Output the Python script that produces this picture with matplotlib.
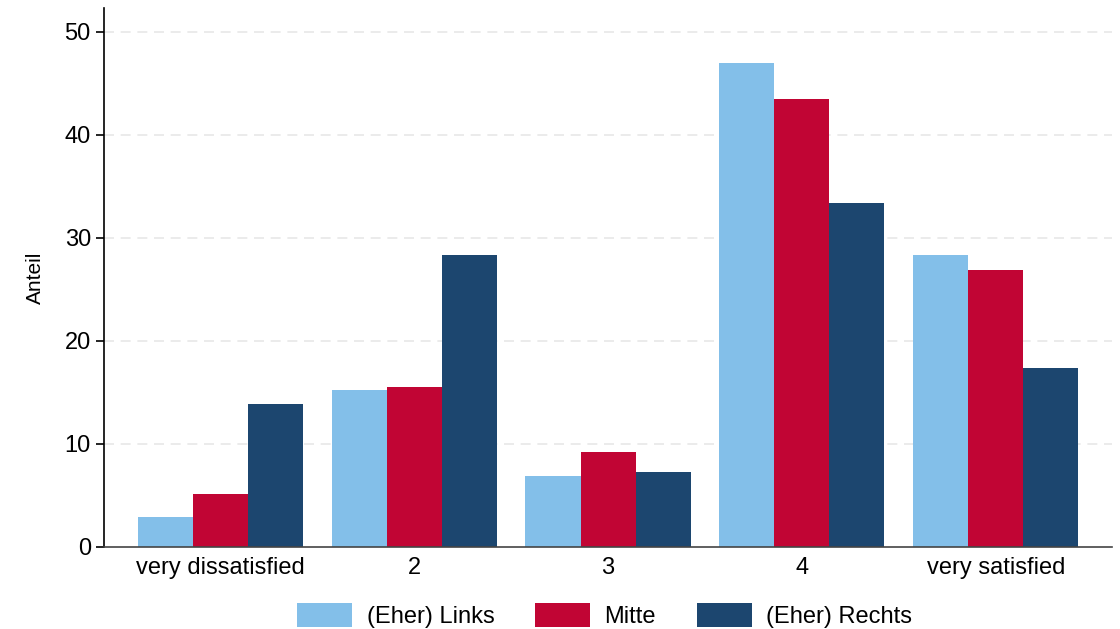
import numpy as np
import matplotlib.pyplot as plt

plt.rcParams['font.family'] = ['Liberation Sans', 'DejaVu Sans']

# Daten
kategorien = ['very dissatisfied', '2', '3', '4', 'very satisfied']
links = [2.9, 15.2, 6.9, 47.0, 28.3]
mitte = [5.1, 15.5, 9.2, 43.5, 26.9]
rechts = [13.9, 28.3, 7.3, 33.4, 17.4]
gruppen = ['(Eher) Links', 'Mitte', '(Eher) Rechts']
farben = ['#83bfe9', '#c10534', '#1c466f']

fig = plt.figure(figsize=(11.2, 6.29), dpi=100)
ax = fig.add_axes([0.0929, 0.1304, 0.9, 0.857])

x = np.arange(len(kategorien))
w = 0.284
for i, (werte, name, farbe) in enumerate(zip([links, mitte, rechts], gruppen, farben)):
    ax.bar(x + (i - 1) * w, werte, w, color=farbe, label=name, zorder=2)

ax.set_xlim(-0.6, 4.6)
ax.set_ylim(0, 52.3)
ax.set_yticks([0, 10, 20, 30, 40, 50])
ax.set_xticks(x)
ax.set_xticklabels(kategorien)
ax.tick_params(axis='x', length=0, labelsize=17, pad=7)
ax.tick_params(axis='y', length=6, width=1.2, labelsize=17, direction='out')
for t in [10, 20, 30, 40, 50]:
    ax.axhline(t, color='#e8e8e8', linestyle=(0, (6, 4)), linewidth=1.2, zorder=1)
ax.spines['top'].set_visible(False)
ax.spines['right'].set_visible(False)
ax.spines['left'].set_linewidth(1.2)
ax.spines['bottom'].set_linewidth(1.2)
ax.spines['bottom'].set_color('#444444')
ax.set_ylabel('Anteil', fontsize=15, labelpad=14)

fig.legend(loc='lower center', ncol=3, frameon=False, fontsize=17,
           handlelength=2.33, handleheight=1.2, handletextpad=0.6,
           columnspacing=1.74, borderaxespad=0.0,
           bbox_to_anchor=(0.54, -0.013))

fig.savefig('out.png', dpi=100)
